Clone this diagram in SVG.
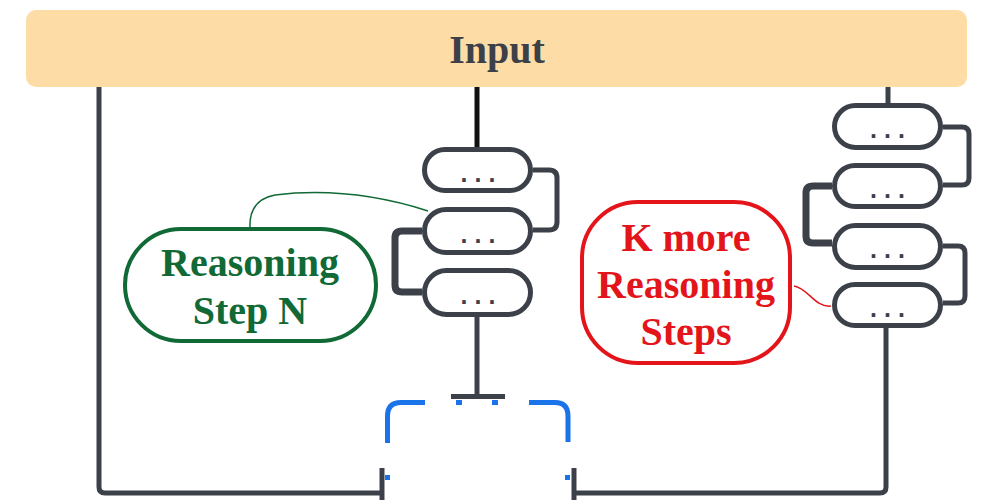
<svg xmlns="http://www.w3.org/2000/svg" width="1000" height="500" viewBox="0 0 1000 500">
<style>
.line{fill:none;stroke:#3c4149;stroke-width:5;stroke-linecap:butt;stroke-linejoin:round}
.thick{stroke-width:7}
.black{stroke:#111}
.pill{fill:#fff;stroke:#3c4149;stroke-width:5}
.dots{font-family:"Liberation Sans",Arial,sans-serif;font-weight:bold;font-size:25px;fill:#3c4149;text-anchor:middle;letter-spacing:7px}
.lbl{font-family:"Liberation Serif","Times New Roman",serif;font-weight:bold;font-size:40px;text-anchor:middle}
.blue{fill:none;stroke:#1a73e8;stroke-width:5}
</style>
<rect width="1000" height="500" fill="#fff"/>
<g id="connectors">
  <path class="line" d="M99 87 V487 Q99 493 105 493 H382"/>
  <path class="line" d="M382 468 V500"/>
  <path class="line" d="M574 468 V500"/>
  <path class="line" d="M574 493 H880 Q886 493 886 487 V328"/>
  <path class="line black" d="M477 87 V148"/>
  <path class="line" d="M888 87 V104"/>
  <path class="line" d="M533 170 H549 Q557 170 557 178 V222 Q557 230 549 230 H533"/>
  <path class="line thick" d="M422 231 H402 Q395 231 395 238 V285 Q395 292 402 292 H422"/>
  <path class="line" d="M477 317 V396"/>
  <path class="line" d="M451 396.5 H505"/>
  <path class="line" d="M943 127 H962 Q969 127 969 134 V178 Q969 185 962 185 H943"/>
  <path class="line thick" d="M832 186 H813 Q806 186 806 193 V236 Q806 243 813 243 H832"/>
  <path class="line" d="M943 246 H958 Q965 246 965 253 V296 Q965 303 958 303 H943"/>
  <path d="M250 227 Q249 200 275 195 Q350 186 428 211" fill="none" stroke="#116936" stroke-width="1.5"/>
  <path d="M794 286 C808 288 815 308 831 306" fill="none" stroke="#e3151a" stroke-width="1.5"/>
</g>
<g id="placeholder">
  <path class="blue" d="M425 402.5 H401 Q387.5 402.5 387.5 416 V443"/>
  <path class="blue" d="M529 402.5 H555 Q568 402.5 568 416 V442"/>
  <rect x="456" y="400" width="6" height="5" fill="#1a73e8"/>
  <rect x="492" y="400" width="6" height="5" fill="#1a73e8"/>
  <rect x="385" y="475" width="5" height="5" fill="#1a73e8"/>
  <rect x="565" y="475" width="5" height="5" fill="#1a73e8"/>
</g>
<g id="input">
  <rect x="26" y="10" width="941" height="77" rx="10" fill="#fddca6"/>
  <text x="497" y="63" class="lbl" fill="#3c4149">Input</text>
</g>
<g id="step1"><rect class="pill" x="424.5" y="149.5" width="106" height="41" rx="20.5"/><text class="dots" x="481.5" y="182">...</text></g>
<g id="step2"><rect class="pill" x="424.5" y="209.5" width="106" height="43" rx="21.5"/><text class="dots" x="481.5" y="243">...</text></g>
<g id="step3"><rect class="pill" x="424.5" y="270.5" width="106" height="44" rx="22"/><text class="dots" x="481.5" y="304">...</text></g>
<g id="k1"><rect class="pill" x="834.5" y="105.5" width="106" height="42" rx="21"/><text class="dots" x="891" y="138">...</text></g>
<g id="k2"><rect class="pill" x="834.5" y="165.5" width="106" height="41" rx="20.5"/><text class="dots" x="891" y="198">...</text></g>
<g id="k3"><rect class="pill" x="834.5" y="225.5" width="106" height="42" rx="21"/><text class="dots" x="891" y="258">...</text></g>
<g id="k4"><rect class="pill" x="834.5" y="284.5" width="106" height="41" rx="20.5"/><text class="dots" x="891" y="317">...</text></g>
<g id="label-step-n">
  <rect x="125" y="229" width="251" height="112" rx="56" fill="#fff" stroke="#116936" stroke-width="4"/>
  <text class="lbl" fill="#116936"><tspan x="250" y="276">Reasoning</tspan><tspan x="250" y="324">Step N</tspan></text>
</g>
<g id="label-k-more">
  <rect x="582" y="202" width="208" height="161" rx="56" fill="#fff" stroke="#e3151a" stroke-width="4"/>
  <text class="lbl" fill="#e3151a"><tspan x="686" y="251">K more</tspan><tspan x="686" y="298">Reasoning</tspan><tspan x="686" y="345">Steps</tspan></text>
</g>
</svg>
